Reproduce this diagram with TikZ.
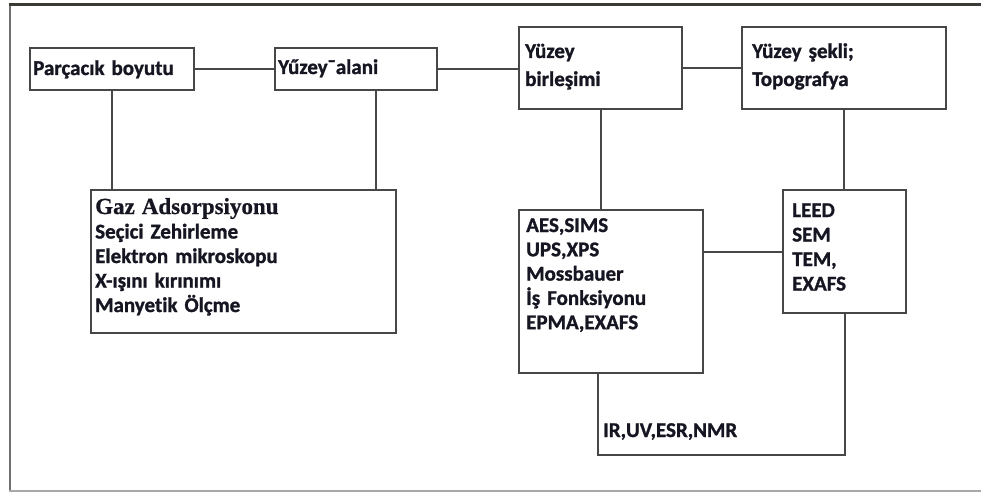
\documentclass[tikz,border=0pt]{standalone}
\usepackage{fontspec}
\setmainfont{Carlito}[Ligatures={NoCommon,NoRare,NoContextual},BoldFeatures={FakeBold=1.2}]
\newfontfamily\serifb{Liberation Serif}[BoldFeatures={FakeBold=0.8}]
\definecolor{ln}{HTML}{474747}
\definecolor{tx}{HTML}{161622}
\definecolor{frtop}{HTML}{3A3A36}
\definecolor{frleft}{HTML}{707070}
\definecolor{frbot}{HTML}{A8A8A8}
\begin{document}
\begin{tikzpicture}[x=1pt,y=-1pt,
  box/.style={draw=ln, line width=2.2pt, inner sep=0pt, anchor=north west, rectangle},
  conn/.style={draw=ln, line width=2.2pt},
  lbl/.style={anchor=base west, inner sep=0pt, text=tx, align=left, text width=300pt,
    font=\fontsize{21}{#1}\selectfont\bfseries},
  lbl/.default=24.5,
]
\useasboundingbox (0,0) rectangle (981,492);
% outer frame
\draw[frleft, line width=2.5pt] (10,490) -- (10,5);
\draw[frtop, line width=3pt] (9,5) -- (981,5);
\draw[frbot, line width=2pt] (9,490.5) -- (981,490.5);

% boxes
\node[box, minimum width=164pt, minimum height=42pt] (parc) at (29,47) {};
\node[box, minimum width=162pt, minimum height=42pt] (alan) at (274,47) {};
\node[box, minimum width=163pt, minimum height=82pt] (birl) at (518,26) {};
\node[box, minimum width=204pt, minimum height=82pt] (sekl) at (741,26) {};
\node[box, minimum width=305pt, minimum height=143pt] (gaz) at (90,189) {};
\node[box, minimum width=184pt, minimum height=163pt] (aes) at (518,209) {};
\node[box, minimum width=123pt, minimum height=123pt] (leed) at (782,189) {};

% texts
\node[lbl] (tparc) at (33,75) {Parçacık boyutu};
\node[lbl] (talan) at (278,74) {Yűzey¯alani};
\node[lbl=28] (tbirl) at (525,58) {Yüzey\\birleşimi};
\node[lbl=28] (tsekl) at (752,58) {Yüzey şekli;\\Topografya};
\node[lbl] (tgaz) at (95,214) {{\serifb\fontsize{23}{24.5}\selectfont\bfseries Gaz Adsorpsiyonu}\\Seçici Zehirleme\\Elektron mikroskopu\\X-ışını kırınımı\\Manyetik Ölçme};
\node[lbl=24.3] (taes) at (526,232) {AES,SIMS\\UPS,XPS\\Mossbauer\\İş Fonksiyonu\\EPMA,EXAFS};
\node[lbl] (tleed) at (792,217) {LEED\\SEM\\TEM,\\EXAFS};
\node[lbl] (tir) at (603,437) {IR,UV,ESR,NMR};

% connectors
\coordinate (a1) at (376,89);
\coordinate (c2) at (598,455);
\draw[conn] (parc.east) -- (alan.west);
\draw[conn] (alan.east) -- (alan.east -| birl.west);
\draw[conn] (birl.east) -- (sekl.west);
\draw[conn] (parc.south) -- (parc.south |- gaz.north);
\draw[conn] (a1) -- (a1 |- gaz.north);
\draw[conn] (birl.south) -- (birl.south |- aes.north);
\draw[conn] (sekl.south) -- (sekl.south |- leed.north);
\draw[conn] (aes.east |- leed.west) -- (leed.west);
\draw[conn] (leed.south) |- (c2) -- (c2 |- aes.south);
\end{tikzpicture}
\end{document}
